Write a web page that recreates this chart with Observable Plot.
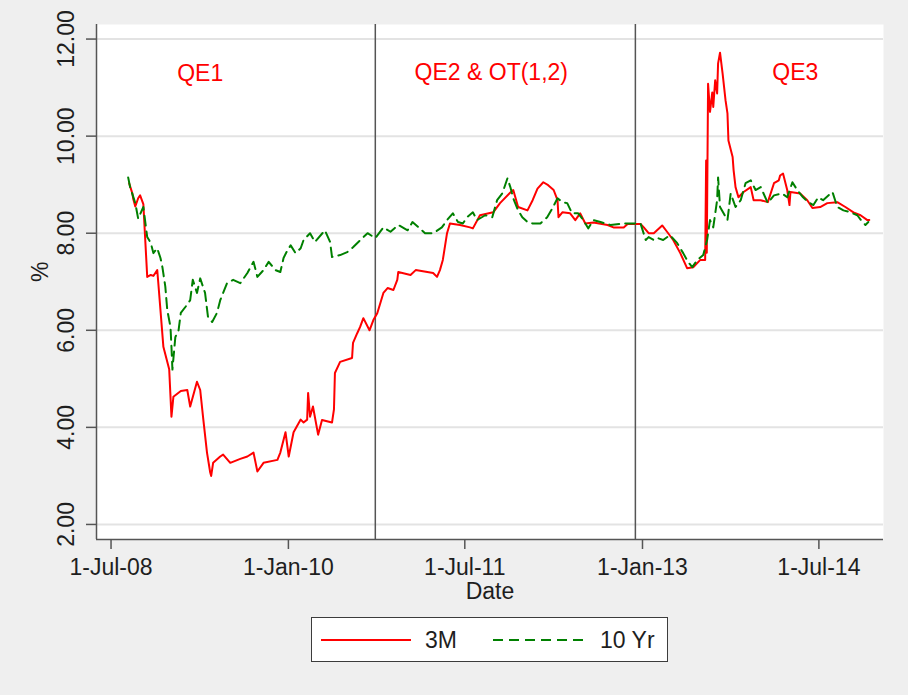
<!DOCTYPE html>
<html><head><meta charset="utf-8">
<script src="https://cdn.jsdelivr.net/npm/d3@7"></script>
<script src="https://cdn.jsdelivr.net/npm/@observablehq/plot@0.6"></script>
<style>
html,body{margin:0;padding:0;background:#efefef;width:908px;height:695px;overflow:hidden;font-family:"Liberation Sans",Arial,sans-serif;}
#chart{position:absolute;left:0;top:0;}
#legend{position:absolute;left:311px;top:617px;width:355px;height:43px;background:#fff;border:1px solid #3c3c3c;}
</style></head><body>
<div id="chart"></div>
<div id="legend"></div>
<script>
// ---- data ----
const seriesNames = ["3M", "10 Yr"];
const dates3M = ["2008-08-26","2008-09-05","2008-09-08","2008-09-14","2008-09-23","2008-09-29","2008-10-09","2008-10-21","2008-11-01","2008-11-09","2008-11-21","2008-11-24","2008-12-10","2008-12-28","2009-01-04","2009-01-10","2009-02-02","2009-02-22","2009-03-03","2009-03-24","2009-04-03","2009-04-12","2009-04-24","2009-05-04","2009-05-07","2009-05-13","2009-06-04","2009-06-13","2009-07-05","2009-08-05","2009-08-27","2009-09-15","2009-09-27","2009-10-16","2009-11-28","2009-12-07","2009-12-23","2010-01-02","2010-01-17","2010-02-08","2010-02-17","2010-02-28","2010-03-03","2010-03-09","2010-03-18","2010-04-03","2010-04-15","2010-05-16","2010-05-22","2010-05-25","2010-06-10","2010-07-17","2010-07-20","2010-08-02","2010-08-11","2010-08-21","2010-09-09","2010-09-21","2010-10-03","2010-10-22","2010-11-04","2010-11-22","2010-12-04","2010-12-07","2011-01-14","2011-01-30","2011-03-25","2011-04-06","2011-04-15","2011-04-24","2011-05-07","2011-05-16","2011-06-16","2011-07-17","2011-07-26","2011-08-17","2011-09-27","2011-10-18","2011-11-19","2011-11-28","2011-12-13","2012-01-11","2012-01-27","2012-02-11","2012-02-29","2012-03-15","2012-04-01","2012-04-13","2012-04-16","2012-04-28","2012-05-22","2012-06-07","2012-06-22","2012-07-08","2012-08-02","2012-09-15","2012-10-03","2012-11-04","2012-11-16","2012-12-26","2013-01-05","2013-01-20","2013-02-05","2013-03-03","2013-03-18","2013-04-06","2013-04-28","2013-05-19","2013-06-07","2013-06-29","2013-07-14","2013-07-17","2013-07-19","2013-07-23","2013-07-29","2013-08-05","2013-08-08","2013-08-14","2013-08-20","2013-08-23","2013-08-29","2013-09-06","2013-09-15","2013-09-21","2013-09-24","2013-10-07","2013-10-10","2013-10-16","2013-10-25","2013-11-10","2013-12-02","2013-12-11","2014-01-02","2014-01-24","2014-02-12","2014-02-27","2014-03-03","2014-03-12","2014-03-25","2014-04-01","2014-04-04","2014-05-04","2014-05-26","2014-06-11","2014-07-05","2014-07-27","2014-08-27","2014-09-21","2014-10-16","2014-11-07","2014-11-28","2014-12-04"];
const values3M = [9.03,8.82,8.7,8.55,8.72,8.78,8.6,7.1,7.14,7.12,7.24,7.0,5.66,5.2,4.22,4.63,4.75,4.77,4.43,4.94,4.77,4.2,3.48,3.07,3.0,3.27,3.4,3.44,3.27,3.35,3.4,3.48,3.09,3.27,3.33,3.48,3.9,3.4,3.9,4.16,4.1,4.16,4.71,4.22,4.43,3.85,4.15,4.1,4.37,5.12,5.35,5.43,5.74,5.94,6.07,6.25,6.0,6.21,6.35,6.77,6.87,6.83,7.04,7.2,7.14,7.24,7.18,7.1,7.24,7.45,8.0,8.2,8.17,8.12,8.1,8.37,8.43,8.62,8.84,8.89,8.54,8.47,8.68,8.92,9.05,8.99,8.89,8.68,8.33,8.43,8.41,8.27,8.41,8.2,8.22,8.17,8.12,8.12,8.19,8.19,8.12,8.0,8.0,8.16,8.03,7.86,7.59,7.28,7.3,7.45,7.45,9.5,7.6,11.08,10.5,10.9,10.6,11.15,10.88,11.5,11.72,11.29,10.74,10.47,9.91,9.57,9.3,8.95,8.74,8.85,8.95,8.68,8.68,8.64,9.03,9.09,9.19,9.23,8.89,8.58,8.85,8.82,8.68,8.52,8.54,8.62,8.64,8.54,8.43,8.37,8.27,8.27];
const dates10Y = ["2008-08-23","2008-08-29","2008-09-14","2008-09-23","2008-10-09","2008-10-21","2008-11-01","2008-11-09","2008-11-21","2008-12-01","2008-12-07","2008-12-16","2008-12-22","2009-01-01","2009-01-04","2009-01-07","2009-01-16","2009-01-26","2009-02-02","2009-02-16","2009-03-03","2009-03-11","2009-03-24","2009-04-03","2009-04-18","2009-04-27","2009-05-10","2009-05-25","2009-06-04","2009-06-25","2009-07-14","2009-08-05","2009-08-27","2009-09-15","2009-09-27","2009-10-16","2009-11-01","2009-11-22","2009-12-07","2009-12-17","2009-12-29","2010-01-08","2010-01-23","2010-02-08","2010-02-17","2010-03-09","2010-03-24","2010-04-24","2010-05-10","2010-05-16","2010-06-10","2010-07-02","2010-07-20","2010-08-18","2010-09-03","2010-09-27","2010-10-22","2010-11-13","2010-12-07","2011-01-05","2011-01-20","2011-02-08","2011-02-28","2011-03-25","2011-04-21","2011-05-07","2011-05-25","2011-06-10","2011-06-25","2011-07-08","2011-07-26","2011-08-08","2011-09-02","2011-09-24","2011-10-09","2011-10-25","2011-11-10","2011-11-19","2011-11-28","2011-12-13","2011-12-26","2012-01-11","2012-01-27","2012-02-20","2012-03-12","2012-03-28","2012-04-13","2012-04-28","2012-05-13","2012-05-28","2012-06-16","2012-07-02","2012-07-17","2012-08-02","2012-08-24","2012-09-24","2012-11-04","2012-12-04","2012-12-26","2013-01-11","2013-01-20","2013-02-05","2013-02-17","2013-03-06","2013-03-27","2013-04-18","2013-05-07","2013-05-22","2013-06-04","2013-06-20","2013-07-08","2013-07-20","2013-07-29","2013-08-08","2013-08-20","2013-08-23","2013-08-29","2013-09-09","2013-09-21","2013-10-01","2013-10-16","2013-11-01","2013-11-16","2013-12-02","2013-12-17","2014-01-02","2014-01-24","2014-02-12","2014-03-09","2014-03-25","2014-04-10","2014-04-25","2014-05-13","2014-05-29","2014-06-14","2014-06-29","2014-07-14","2014-08-12","2014-08-27","2014-09-15","2014-10-07","2014-10-28","2014-11-13","2014-11-22","2014-12-01"];
const values10Y = [9.15,8.95,8.62,8.3,8.54,7.92,7.8,7.59,7.69,7.49,7.3,6.9,6.42,6.07,5.66,5.19,5.86,6.0,6.36,6.48,6.62,7.04,6.77,7.07,6.77,6.28,6.17,6.36,6.62,6.97,7.04,6.97,7.18,7.41,7.1,7.24,7.41,7.24,7.2,7.49,7.65,7.75,7.59,7.69,7.86,8.0,7.82,8.06,7.82,7.51,7.55,7.61,7.71,7.9,8.0,7.9,8.12,8.03,8.17,8.06,8.23,8.12,8.0,8.0,8.12,8.27,8.41,8.23,8.2,8.33,8.43,8.27,8.37,8.33,8.68,8.82,9.13,8.95,8.72,8.47,8.33,8.23,8.2,8.2,8.33,8.51,8.72,8.64,8.62,8.41,8.41,8.27,8.1,8.27,8.23,8.17,8.2,8.2,8.2,7.86,7.92,7.86,7.9,7.86,7.96,7.8,7.59,7.41,7.3,7.45,7.55,7.86,8.27,8.12,8.68,9.15,8.54,8.41,8.27,8.82,8.54,8.68,9.03,9.09,8.89,8.95,8.62,8.78,8.82,8.74,9.05,8.89,8.74,8.64,8.58,8.74,8.68,8.85,8.54,8.47,8.43,8.37,8.23,8.17,8.23];
const regimeDates = ["2010-09-27", "2012-12-10"];
const annotLabels = ["QE1", "QE2 & OT(1,2)", "QE3"];
const annotDates = ["2009-04-03", "2011-09-21", "2014-04-19"];
const annotValues = [11.28, 11.3, 11.3];
const yTicks = [2, 4, 6, 8, 10, 12];
const xTickDates = ["2008-07-01", "2010-01-01", "2011-07-01", "2013-01-01", "2014-07-01"];
const xTickLabels = ["1-Jul-08", "1-Jan-10", "1-Jul-11", "1-Jan-13", "1-Jul-14"];
const xDomain = ["2008-05-17", "2015-01-17"];
const yDomain = [1.69, 12.3];

// ---- build ----
const toDate = s => new Date(s + "T00:00:00Z");
const data3M = dates3M.map((d, i) => ({date: toDate(d), value: values3M[i]}));
const data10Y = dates10Y.map((d, i) => ({date: toDate(d), value: values10Y[i]}));
const xMin = toDate(xDomain[0]);
const xTicks = xTickDates.map(toDate);
const colors = ["#ff0000", "#008000"];
const dash = "10,6";

const chart = Plot.plot({
  width: 908, height: 605,
  marginLeft: 96, marginRight: 25, marginTop: 24, marginBottom: 66,
  style: {background: "transparent", fontFamily: "'Liberation Sans', Arial, sans-serif", fontSize: "23px", color: "#1e1e1e", overflow: "visible"},
  x: {type: "utc", domain: [xMin, toDate(xDomain[1])]},
  y: {domain: yDomain},
  marks: [
    Plot.frame({fill: "white", stroke: "none"}),
    Plot.gridY(yTicks, {stroke: "#e3e3e3", strokeOpacity: 1, strokeWidth: 2}),
    Plot.ruleX(regimeDates.map(toDate), {stroke: "#555", strokeWidth: 1.5}),
    Plot.line(data3M, {x: "date", y: "value", stroke: colors[0], strokeWidth: 2}),
    Plot.line(data10Y, {x: "date", y: "value", stroke: colors[1], strokeWidth: 2, strokeDasharray: dash}),
    Plot.ruleX([xMin], {stroke: "#555", strokeWidth: 1.5}),
    Plot.ruleY([yDomain[0]], {stroke: "#555", strokeWidth: 1.5}),
    Plot.axisY(yTicks, {tickSize: 10, fill: "none", stroke: "#555", strokeWidth: 1.5}),
    Plot.axisX(xTicks, {tickSize: 10, fill: "none", stroke: "#555", strokeWidth: 1.5}),
    Plot.text(yTicks, {y: d => d, text: d => d.toFixed(2), frameAnchor: "left", dx: -30, rotate: -90, textAnchor: "middle", lineAnchor: "middle", fill: "#1e1e1e"}),
    Plot.text(xTicks, {x: d => d, text: (d, i) => xTickLabels[i], frameAnchor: "bottom", dy: 28, lineAnchor: "middle", fill: "#1e1e1e"}),
    Plot.text(["Date"], {frameAnchor: "bottom", dy: 52, lineAnchor: "middle", fill: "#1e1e1e"}),
    Plot.text(["%"], {frameAnchor: "left", dx: -56, rotate: -90, lineAnchor: "middle", fill: "#1e1e1e"}),
    Plot.text(annotLabels, {x: (d, i) => toDate(annotDates[i]), y: (d, i) => annotValues[i], text: d => d, fill: "#ff0000", lineAnchor: "middle"})
  ]
});
document.getElementById("chart").appendChild(chart);

// ---- legend ----
const lg = d3.select("#legend").append("svg").attr("width", 355).attr("height", 43)
  .style("font-family", "'Liberation Sans', Arial, sans-serif").style("font-size", "23px");
const lx = [[9, 99, 113], [181, 273, 288]];
seriesNames.forEach((name, i) => {
  lg.append("line").attr("x1", lx[i][0]).attr("x2", lx[i][1]).attr("y1", 22).attr("y2", 22)
    .attr("stroke", colors[i]).attr("stroke-width", 2).attr("stroke-dasharray", i === 1 ? dash : null);
  lg.append("text").attr("x", lx[i][2]).attr("y", 22).attr("dy", "0.35em").attr("fill", "#1e1e1e").text(name);
});
</script>
</body></html>
